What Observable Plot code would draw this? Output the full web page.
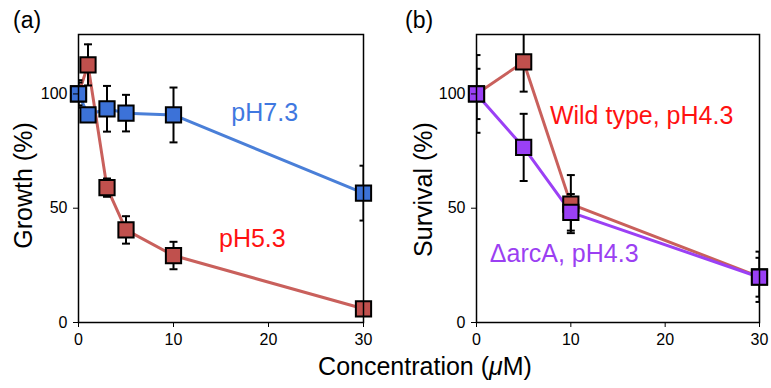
<!DOCTYPE html>
<html>
<head>
<meta charset="utf-8">
<script src="https://cdn.jsdelivr.net/npm/d3@7"></script>
<script src="https://cdn.jsdelivr.net/npm/@observablehq/plot@0.6"></script>
<style>
  body { margin: 0; background: #fff; }
  #wrap { position: relative; width: 771px; height: 388px; font-family: "Liberation Sans", Arial, Helvetica, sans-serif; color: #000; }
  .panel { position: absolute; top: 0; }
  .plab { position: absolute; font-size: 23px; top: 7px; }
  #xlab { position: absolute; left: 0; width: 850px; text-align: center; top: 352px; font-size: 25px; }
</style>
</head>
<body>
<div id="wrap">
  <div class="panel" id="pa" style="left:0px"></div>
  <div class="panel" id="pb" style="left:385px"></div>
  <div class="plab" style="left:13px">(a)</div>
  <div class="plab" style="left:405px">(b)</div>
  <div id="xlab">Concentration (<i>μ</i>M)</div>
</div>
<script>
// ---- Panel (a) data ----
const concA = [0, 1, 3, 5, 10, 30];
const growthPH73 = [100, 90.8, 93.5, 91.6, 90.8, 56.6];
const errPH73    = [6, 3, 10, 8, 12, 12];
const growthPH53 = [100, 112.7, 59, 40.5, 29.3, 6];
const errPH53    = [5, 9, 4, 6, 6, 3];
const seriesA = ["pH7.3", "pH5.3"];

// ---- Panel (b) data ----
const concB = [0, 5, 10, 30];
const survWT   = [100, 114, 51.8, 20];
const errWT    = [17, 13, 12.7, 11];
const survArcA = [100, 76.6, 48.2, 19.8];
const errArcA  = [11, 14.7, 8, 8.5];
const seriesB = ["Wild type, pH4.3", "ΔarcA, pH4.3"];

// ticks
const yTicks = [0, 50, 100];
const xTicks = [0, 10, 20, 30];

// annotation labels (data-space anchors)
const annA = [
  {label: "pH7.3", x: 19.6, y: 91.7, c: "#3f78e0"},
  {label: "pH5.3", x: 18.3, y: 36.7, c: "#ff1111"}
];
const annB = [
  {label: "Wild type, pH4.3", x: 17.5, y: 90.4, c: "#ff1111"},
  {label: "ΔarcA, pH4.3", x: 9.3, y: 30.1, c: "#9b3ff2"}
];

const capSymbol = {
  draw(ctx, size) {
    const w = Math.sqrt(size);
    ctx.moveTo(-w / 2, 0);
    ctx.lineTo(w / 2, 0);
  }
};

function rows(xs, ys, es, name) {
  return xs.map((x, i) => ({x, y: ys[i], e: es[i], s: name}));
}

function panel({data, names, lineColors, fillColors, markerOrder, ann, ylabel, width, marginLeft, marginRight, labelDx, labelDy}) {
  const marks = [];
  names.forEach((n, k) => {
    const d = data.filter(r => r.s === n);
    marks.push(Plot.line(d, {x: "x", y: "y", stroke: lineColors[k], strokeWidth: 3}));
  });
  markerOrder.forEach(k => {
    const d = data.filter(r => r.s === names[k]);
    marks.push(Plot.ruleX(d, {x: "x", y1: r => r.y - r.e, y2: r => r.y + r.e, stroke: "#000", strokeWidth: 2, clip: true}));
    marks.push(Plot.dot(d, {x: "x", y: r => r.y + r.e, symbol: capSymbol, r: 4.5, stroke: "#000", strokeWidth: 2, clip: true}));
    marks.push(Plot.dot(d, {x: "x", y: r => r.y - r.e, symbol: capSymbol, r: 4.5, stroke: "#000", strokeWidth: 2, clip: true}));
  });
  markerOrder.forEach(k => {
    const d = data.filter(r => r.s === names[k]);
    marks.push(Plot.dot(d, {x: "x", y: "y", symbol: "square", r: 8.6, fill: fillColors[k], stroke: "#000", strokeWidth: 2}));
  });
  marks.push(Plot.text(ann, {x: "x", y: "y", text: "label", fill: "c", fontSize: 25}));
  marks.push(Plot.frame({stroke: "#000", strokeWidth: 1.5}));
  marks.push(Plot.axisY({ticks: yTicks, tickSize: 5, tickPadding: 6, fontSize: 16, label: null}));
  marks.push(Plot.axisX({ticks: xTicks, tickSize: 5, tickPadding: 6, fontSize: 16, label: null}));
  marks.push(Plot.text([ylabel], {frameAnchor: "left", textAnchor: "middle", rotate: -90, dx: labelDx, dy: labelDy, fontSize: 25, fill: "#000"}));
  return Plot.plot({
    width, height: 388,
    marginTop: 34, marginBottom: 66, marginLeft, marginRight,
    style: {fontFamily: '"Liberation Sans", Arial, Helvetica, sans-serif', color: "#000", background: "transparent", overflow: "visible"},
    x: {domain: [0, 30]},
    y: {domain: [0, 126]},
    color: {type: "identity"},
    marks
  });
}

const dataA = [...rows(concA, growthPH73, errPH73, seriesA[0]), ...rows(concA, growthPH53, errPH53, seriesA[1])];
const dataB = [...rows(concB, survWT, errWT, seriesB[0]), ...rows(concB, survArcA, errArcA, seriesB[1])];

document.getElementById("pa").appendChild(panel({
  data: dataA, names: seriesA, markerOrder: [1, 0],
  lineColors: ["#4a7fd8", "#c9605c"], fillColors: ["#3c72d8", "#c0504d"],
  ann: annA, ylabel: "Growth (%)", width: 385, marginLeft: 78, marginRight: 22, labelDx: -55, labelDy: 7
}));
document.getElementById("pb").appendChild(panel({
  data: dataB, names: seriesB, markerOrder: [0, 1],
  lineColors: ["#c9605c", "#9b40f5"], fillColors: ["#c0504d", "#9a40f5"],
  ann: annB, ylabel: "Survival (%)", width: 386, marginLeft: 91, marginRight: 12, labelDx: -53, labelDy: 11
}));
</script>
</body>
</html>
